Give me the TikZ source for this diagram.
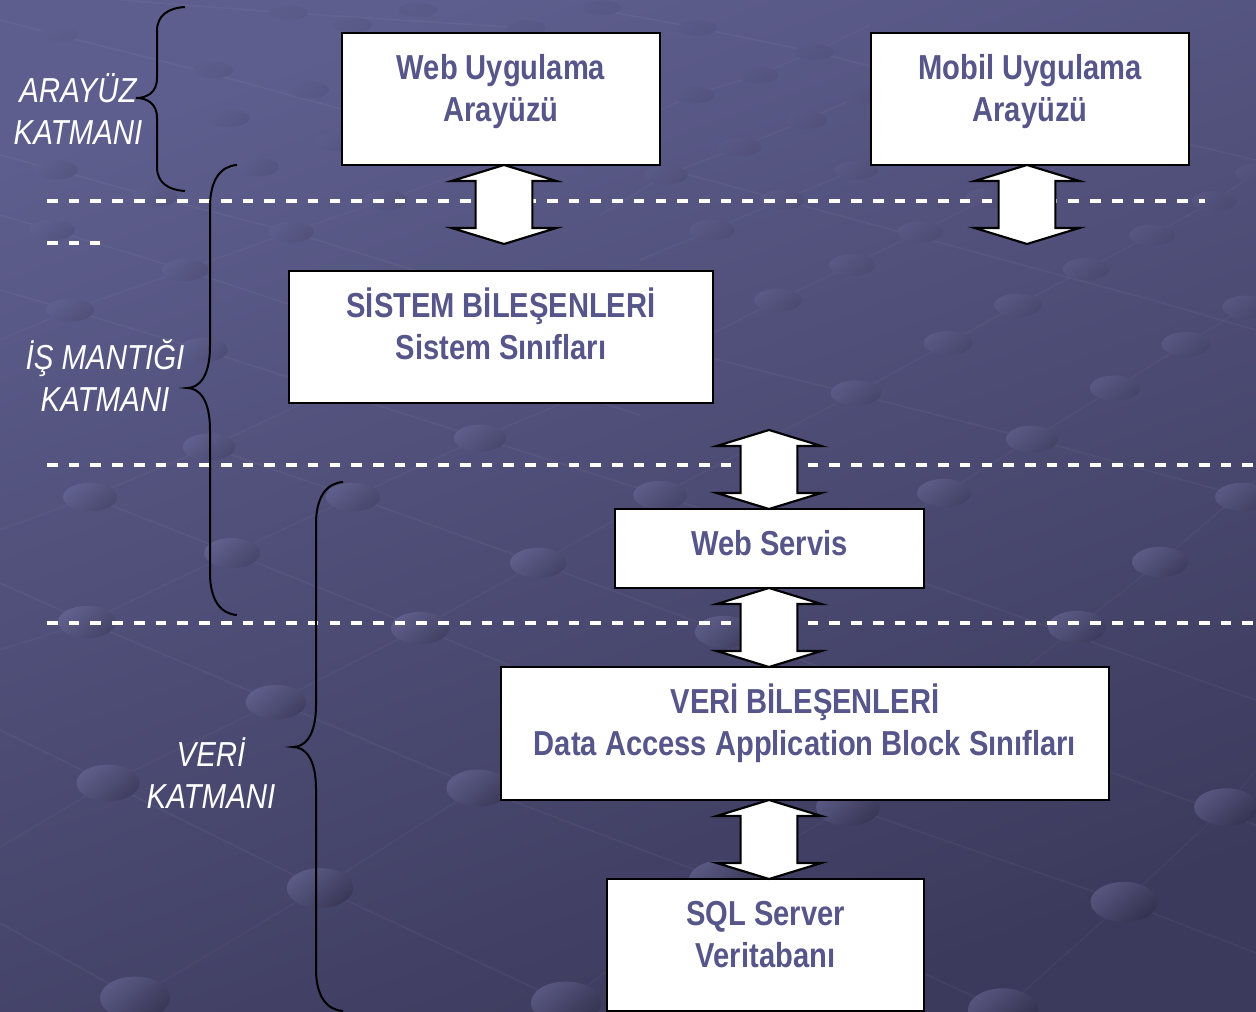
\documentclass[tikz,border=0pt]{standalone}
\usepackage{fontspec}
\usetikzlibrary{shapes.arrows}
\newfontfamily\diagfont[FakeStretch=0.84]{Liberation Sans}
\newfontfamily\layerfont[FakeStretch=0.85]{Liberation Sans}
\definecolor{bgTL}{RGB}{94,94,142}
\definecolor{bgBR}{RGB}{60,58,92}
\definecolor{inktxt}{RGB}{86,86,138}
\definecolor{dotlav}{RGB}{140,140,195}
\newcommand\lifted[2]{\smash{\raisebox{#1}{\begin{tabular}[c]{@{}c@{}}#2\end{tabular}}}}
\newcommand\curlybrace[8]{% xend, xspine, xtip, ytop, ytip, ybot, dy, dtip
  \draw[bracepen] (#1,#4) .. controls (#1-0.6*#1+0.6*#2,#4+1) and (#2,#4+0.35*#7) .. (#2,#4+#7)
    -- (#2,#5-#8) .. controls (#2,#5-0.25*#8) and (#3+0.5*#2-0.5*#3,#5) .. (#3,#5)
    .. controls (#3+0.5*#2-0.5*#3,#5) and (#2,#5+0.25*#8) .. (#2,#5+#8)
    -- (#2,#6-#7) .. controls (#2,#6-0.35*#7) and (#1-0.6*#1+0.6*#2,#6-1) .. (#1,#6);}
\tikzset{
  lat/.style={white,opacity=0.045,line width=1.1pt},
  latb/.style={white,opacity=0.03,line width=1.1pt},
  sep/.style={white,line width=2.4pt,dash pattern=on 8pt off 8.3pt},
  bracepen/.style={black,line width=1.5pt},
  boxn/.style={draw=black,fill=white,line width=1.7pt,text=inktxt,inner sep=0pt,outer sep=0pt,
     font=\diagfont\bfseries\fontsize{26pt}{31.5pt}\selectfont},
  layer/.style={text=white,align=center,inner sep=0pt,
     font=\layerfont\itshape\fontsize{26pt}{31.5pt}\selectfont},
  blockarrow/.style={shape=double arrow,draw=black,fill=white,line width=1.6pt,rotate=90,
     minimum height=59.25pt,inner xsep=0pt,inner ysep=20.5pt,outer sep=0pt,
     double arrow head extend=18pt,double arrow tip angle=146,miter limit=10},
}
\begin{document}
\begin{tikzpicture}[x=0.75pt,y=-0.75pt]
\useasboundingbox (0,0) rectangle (1256,1012);
\clip (0,0) rectangle (1256,1012);
\shade[top color=bgTL,bottom color=bgBR,shading angle=20] (0,0) rectangle (1256,1012);
% lattice lines
\draw[lat] (90,497) -- (232,553) -- (420,628) -- (848,807) -- (1124,902) -- (1256,953);
\draw[lat] (0,583) -- (87,622) -- (276,702) -- (478,788) -- (722,880) -- (1003,1010);
\draw[lat] (0,730) -- (108,783) -- (320,888) -- (566,1003) -- (590,1014);
\draw[lat] (0,923) -- (135,998) -- (160,1014);
\draw[lat] (209,447) -- (353,497) -- (538,563) -- (724,632) -- (1256,825);
\draw[lat] (0,290) -- (70,310) -- (203,350) -- (480,438) -- (660,495) -- (944,590) -- (1256,700);
\draw[lat] (0,215) -- (52,230) -- (185,270) -- (398,340) -- (640,415);
\draw[lat] (0,155) -- (56,170) -- (155,197) -- (291,232) -- (640,340) -- (1032,439) -- (1256,500);
\draw[lat] (0,20) -- (58,35) -- (205,72) -- (400,125);
\draw[lat] (560,140) -- (782,200) -- (1152,300) -- (1256,330);
\draw[lat] (120,0) -- (289,13) -- (526,28);
\draw[lat] (600,10) -- (698,28) -- (814,52) -- (1086,120) -- (1256,160);
\draw[latb] (135,998) -- (320,888) -- (478,788) -- (615,705);
\draw[latb] (566,1003) -- (722,880) -- (848,807) -- (1077,627) -- (1160,562) -- (1256,480);
\draw[latb] (1003,1010) -- (1124,902) -- (1226,807) -- (1256,770);
\draw[latb] (0,847) -- (108,783) -- (276,702) -- (420,628) -- (538,563) -- (615,520);
\draw[latb] (0,650) -- (87,622) -- (232,553) -- (353,497) -- (480,438) -- (640,370);
\draw[latb] (724,632) -- (944,493) -- (1032,439) -- (1115,388) -- (1186,344) -- (1246,307) -- (1256,300);
\draw[latb] (660,495) -- (856,393) -- (948,343) -- (1018,305) -- (1086,269) -- (1152,235) -- (1214,201) -- (1256,173);
\draw[latb] (700,340) -- (778,300) -- (852,265) -- (920,232) -- (988,198) -- (1060,165);
\draw[latb] (640,260) -- (712,230) -- (782,200) -- (856,170) -- (925,140);
\draw[latb] (600,215) -- (666,175) -- (740,147) -- (806,120) -- (862,95) -- (925,65);
\draw[latb] (660,110) -- (694,95) -- (758,75) -- (814,52) -- (870,25);
\draw[latb] (0,340) -- (70,310) -- (185,270) -- (291,232) -- (385,200) -- (480,167);
\draw[latb] (0,530) -- (90,497) -- (209,447) -- (310,400);
% lattice dots
\foreach \px/\py in {58/35,213/70,229/118,56/170,155/197,257/167,385/200,52/230,291/232,185/270,70/310,203/350,
  209/447,480/438,90/497,353/497,289/13,353/25,526/28,602/8,418/10,309/90,337/142,
  698/28,814/52,758/75,694/95,862/95,806/120,740/147,666/175,856/170,782/200,988/198,1214/201,1257/173,
  712/230,920/232,1152/235,852/265,1086/269,778/300,1018/305,1246/307,948/343,1186/344,856/393,1115/388,
  1032/439,944/493,1242/497,660/495,232/553,538/563,87/622,420/628,276/702,108/783,478/788,320/888,135/998,566/1003,
  1160/562,724/632,1077/627,848/807,1226/807,1124/902,1003/1010,722/880}{
  \pgfmathsetmacro\tmix{max(0,100-(0.35*\px+0.94*\py)/13.91)}
  \pgfmathsetmacro\lmix{min(30,2+0.05*\py)}
  \pgfmathsetmacro\dmix{min(20,1+0.02*\py)}
  \pgfmathsetmacro\rxx{19+0.016*\py}
  \pgfmathsetmacro\ryy{7+0.0145*\py}
  \colorlet{dotbase}{bgTL!\tmix!bgBR}
  \colorlet{dothi}{dotlav!\lmix!dotbase}
  \colorlet{dotlo}{black!\dmix!dotbase}
  \shade[top color=dothi,bottom color=dotlo,shading angle=40] (\px,\py) ellipse [x radius=\rxx,y radius=\ryy];
}
% separators
\draw[sep] (47,201) -- (1205,201);
\draw[sep] (47,243) -- (100,243);
\draw[sep] (47,465) -- (1256,465);
\draw[sep] (47,623) -- (1256,623);
% boxes
\node[boxn,minimum width=238.5pt,minimum height=99pt] (web) at (501,99) {\lifted{-0.75pt}{Web Uygulama\\Arayüzü}};
\node[boxn,minimum width=238.5pt,minimum height=99pt] (mobil) at (1030,99) {\lifted{-0.75pt}{Mobil Uygulama\\Arayüzü}};
\node[boxn,minimum width=318pt,minimum height=99pt] (sistem) at (501,337) {\lifted{-0.75pt}{SİSTEM BİLEŞENLERİ\\Sistem Sınıfları}};
\node[boxn,minimum width=231.75pt,minimum height=59.25pt] (servis) at (769.5,548.5) {\lifted{-5.5pt}{Web Servis}};
\node[boxn,minimum width=456pt,minimum height=99.75pt] (veri) at (805,733.5) {\lifted{-0.75pt}{VERİ BİLEŞENLERİ\\Data Access Application Block Sınıfları}};
\node[boxn,minimum width=237.75pt,minimum height=99pt] (sql) at (765.5,945) {\lifted{-0.75pt}{SQL Server\\Veritabanı}};
% block arrows
\node[blockarrow] (a1) at (504,204.5) {};
\node[blockarrow] (a2) at (1027,204.5) {};
\node[blockarrow] (a3) at (769,469.5) {};
\node[blockarrow] (a4) at (769,627.5) {};
\node[blockarrow] (a5) at (769,839.5) {};
% braces
\curlybrace{185}{157}{136}{7}{98}{191}{24}{20}
\curlybrace{237}{210}{187}{165}{388}{615}{42}{42}
\curlybrace{343}{316}{293}{482}{747}{1011}{42}{42}
% layer labels
\node[layer] (l1) at (78,109) {ARAYÜZ\\KATMANI};
\node[layer] (l2) at (105,376) {İŞ MANTIĞI\\KATMANI};
\node[layer] (l3) at (211,773) {VERİ\\KATMANI};
\end{tikzpicture}
\end{document}
